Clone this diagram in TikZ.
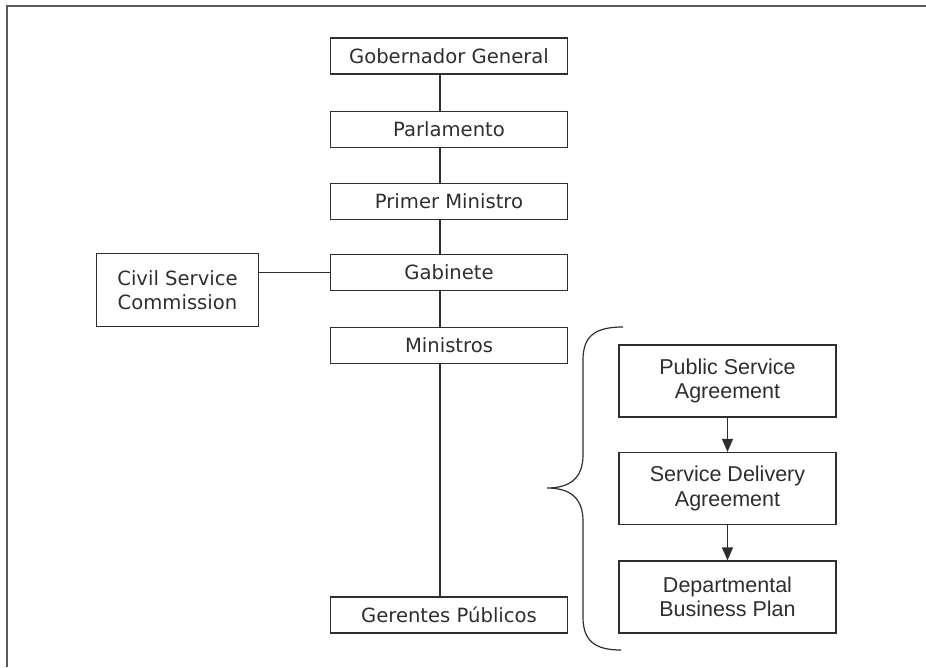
\documentclass[tikz,border=0pt]{standalone}
\usepackage{fontspec}
\setmainfont{DejaVu Sans}
\newfontfamily\arialfont{Liberation Sans}
\usepackage{xcolor}
\usetikzlibrary{arrows.meta}
\definecolor{ink}{HTML}{2E2E2E}
\definecolor{framegray}{HTML}{5A5A5A}

\begin{document}
\begin{tikzpicture}[x=1pt,y=-1pt,
orgbox/.style={draw=ink,line width=1.2pt,text=ink,inner sep=0pt,
  minimum width=237pt,minimum height=36pt,align=center,
  font=\fontsize{19.6}{24}\selectfont},
planbox/.style={draw=ink,line width=1.2pt,text=ink,inner sep=0pt,
  minimum width=217pt,minimum height=72pt,align=center,
  font=\arialfont\fontsize{21.5}{24.5}\selectfont},
link/.style={draw=ink,line width=1.2pt},
flow/.style={link,-{Triangle[length=13pt,width=11pt]}}
]
\useasboundingbox (0,0) rectangle (926,667);
\draw[framegray,line width=2pt] (7,667) -- (7,6) -- (926,6);

\node[orgbox] (gob) at (449,56) {Gobernador General};
\node[orgbox] (par) at (449,129.5) {Parlamento};
\node[orgbox] (pm) at (449,201.5) {Primer Ministro};
\node[orgbox] (gab) at (449,272.5) {Gabinete};
\node[orgbox] (min) at (449,345.5) {Ministros};
\node[orgbox] (ger) at (449,615) {Gerentes Públicos};
\node[orgbox,minimum width=162pt,minimum height=73pt] (csc) at (177.5,290)
  {Civil Service\\Commission};

\node[planbox] (psa) at (727.5,381) {Public Service\\Agreement};
\node[planbox] (sda) at (727.5,488.5) {Service Delivery\\Agreement};
\node[planbox] (dbp) at (727.5,597) {Departmental\\Business Plan};

\coordinate (spine) at (440,0);
\foreach \a/\b in {gob/par,par/pm,pm/gab,gab/min,min/ger}
  \draw[link] (\a.south -| spine) -- (\b.north -| spine);
\draw[link] (csc.east |- gab.west) -- (gab.west);

\draw[flow] (psa) -- (sda);
\draw[flow] (sda) -- (dbp);

\draw[link] (623,327) .. controls (595,327) and (583,336) .. (583,360)
  -- (583,455) .. controls (583,478) and (570,488) .. (547,488)
  .. controls (570,488) and (583,498) .. (583,521)
  -- (583,617) .. controls (583,641) and (595,650) .. (621,650);
\end{tikzpicture}
\end{document}
